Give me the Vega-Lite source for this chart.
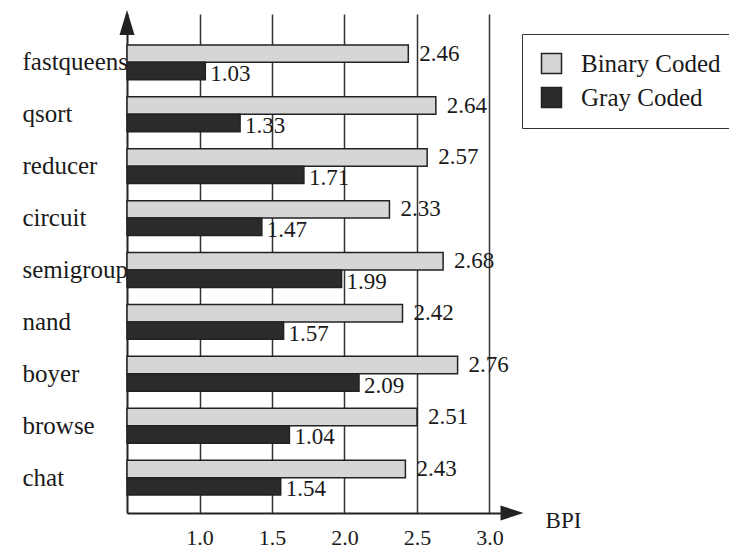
{
  "$schema": "https://vega.github.io/schema/vega-lite/v6.json",
  "width": 377,
  "height": 499,
  "autosize": {"type": "none"},
  "padding": {"left": 127, "top": 14, "right": 225, "bottom": 40},
  "background": "#ffffff",
  "config": {
    "view": {"stroke": null},
    "font": "Liberation Serif",
    "text": {"font": "Liberation Serif"},
    "axis": {"labelFont": "Liberation Serif", "titleFont": "Liberation Serif", "labelColor": "#1a1a1a", "titleColor": "#1a1a1a"},
    "legend": {"labelFont": "Liberation Serif"}
  },
  "resolve": {"scale": {"y": "independent"}, "axis": {"y": "independent"}},
  "layer": [
    {
      "data": {
        "values": [
          {"bench": "fastqueens", "series": "Binary Coded", "v": 2.44, "label": "2.46"},
          {"bench": "fastqueens", "series": "Gray Coded", "v": 1.04, "label": "1.03"},
          {"bench": "qsort", "series": "Binary Coded", "v": 2.63, "label": "2.64"},
          {"bench": "qsort", "series": "Gray Coded", "v": 1.28, "label": "1.33"},
          {"bench": "reducer", "series": "Binary Coded", "v": 2.57, "label": "2.57"},
          {"bench": "reducer", "series": "Gray Coded", "v": 1.72, "label": "1.71"},
          {"bench": "circuit", "series": "Binary Coded", "v": 2.31, "label": "2.33"},
          {"bench": "circuit", "series": "Gray Coded", "v": 1.43, "label": "1.47"},
          {"bench": "semigroup", "series": "Binary Coded", "v": 2.68, "label": "2.68"},
          {"bench": "semigroup", "series": "Gray Coded", "v": 1.98, "label": "1.99"},
          {"bench": "nand", "series": "Binary Coded", "v": 2.4, "label": "2.42"},
          {"bench": "nand", "series": "Gray Coded", "v": 1.58, "label": "1.57"},
          {"bench": "boyer", "series": "Binary Coded", "v": 2.78, "label": "2.76"},
          {"bench": "boyer", "series": "Gray Coded", "v": 2.1, "label": "2.09"},
          {"bench": "browse", "series": "Binary Coded", "v": 2.5, "label": "2.51"},
          {"bench": "browse", "series": "Gray Coded", "v": 1.62, "label": "1.04"},
          {"bench": "chat", "series": "Binary Coded", "v": 2.42, "label": "2.43"},
          {"bench": "chat", "series": "Gray Coded", "v": 1.56, "label": "1.54"}
        ]
      },
      "encoding": {
        "y": {
          "field": "bench", "type": "nominal", "sort": null,
          "scale": {"paddingInner": 0.3276, "paddingOuter": 0.47, "align": 0.633},
          "axis": {"title": null, "ticks": false, "labelAlign": "left", "labelPadding": 105, "labelFontSize": 25, "labelBaseline": "middle", "domainColor": "#222222", "domainWidth": 2, "grid": false}
        },
        "yOffset": {
          "field": "series", "type": "nominal",
          "sort": ["Binary Coded", "Gray Coded"],
          "scale": {"paddingInner": 0, "paddingOuter": 0}
        },
        "x": {
          "field": "v", "type": "quantitative",
          "scale": {"domain": [0.5, 3.1], "nice": false, "zero": false},
          "axis": {"values": [1, 1.5, 2, 2.5, 3], "format": ".1f", "ticks": false, "labelFontSize": 22, "labelPadding": 14, "grid": true, "gridColor": "#333333", "gridWidth": 1.5, "domainColor": "#222222", "domainWidth": 2, "title": "BPI", "titleX": 436, "titleY": 7, "titleFontSize": 23, "titleFontWeight": "normal", "titleBaseline": "middle", "titleAlign": "center"}
        }
      },
      "layer": [
        {
          "mark": {"type": "bar", "stroke": "#222222", "strokeWidth": 1.5},
          "encoding": {
            "x2": {"datum": 0.5},
            "color": {
              "field": "series", "type": "nominal",
              "scale": {"domain": ["Binary Coded", "Gray Coded"], "range": ["#d6d6d6", "#2b2b2b"]},
              "legend": {"orient": "none", "legendX": 395, "legendY": 20, "title": null, "strokeColor": "#333333", "padding": 17, "symbolType": "square", "symbolSize": 400, "symbolStrokeColor": "#222222", "symbolStrokeWidth": 1.5, "labelFontSize": 25, "labelOffset": 17, "rowPadding": 7, "labelColor": "#1a1a1a", "fillColor": "#ffffff"}
            }
          }
        },
        {
          "transform": [{"filter": "datum.series === 'Binary Coded'"}],
          "mark": {"type": "text", "align": "left", "baseline": "middle", "dx": 11, "fontSize": 23, "color": "#1a1a1a"},
          "encoding": {"text": {"field": "label"}}
        },
        {
          "transform": [{"filter": "datum.series === 'Gray Coded'"}],
          "mark": {"type": "text", "align": "left", "baseline": "middle", "dx": 5, "dy": 3, "fontSize": 23, "color": "#1a1a1a"},
          "encoding": {"text": {"field": "label"}}
        }
      ]
    },
    {
      "layer": [
        {
          "data": {"values": [{"v": 0.5, "ay": 1}]},
          "mark": {"type": "point", "filled": true, "shape": "M0,-0.32L0.6,1.68L-0.6,1.68Z", "size": 625, "color": "#222222", "opacity": 1, "strokeWidth": 0},
          "encoding": {
            "x": {"field": "v", "type": "quantitative", "scale": {"domain": [0.5, 3.1], "nice": false, "zero": false}},
            "y": {"field": "ay", "type": "quantitative", "scale": {"domain": [0, 1], "nice": false}, "axis": null}
          }
        },
        {
          "data": {"values": [{"v": 3.1, "ay": 0}]},
          "mark": {"type": "point", "filled": true, "shape": "M1.56,0L-0.28,0.6L-0.28,-0.6Z", "size": 625, "color": "#222222", "opacity": 1, "strokeWidth": 0},
          "encoding": {
            "x": {"field": "v", "type": "quantitative", "scale": {"domain": [0.5, 3.1], "nice": false, "zero": false}},
            "y": {"field": "ay", "type": "quantitative", "scale": {"domain": [0, 1], "nice": false}, "axis": null}
          }
        }
      ]
    }
  ]
}
